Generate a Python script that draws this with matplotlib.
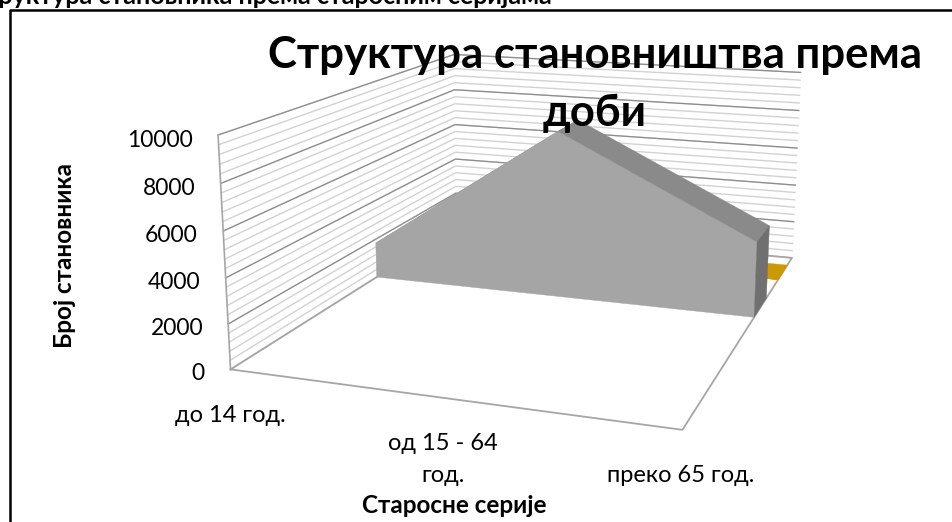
import matplotlib
matplotlib.use("Agg")
import matplotlib.pyplot as plt
import numpy as np
from matplotlib.lines import Line2D
from mpl_toolkits.mplot3d.art3d import Poly3DCollection

plt.rcParams['font.family'] = ['Lato', 'DejaVu Sans']

W, H = 952, 522

categories = ['до 14 год.', 'од 15 - 64\nгод.', 'преко 65 год.']
main_series = [1800, 8200, 3650]
back_series = [0, 0, 0]
y_ticks = [0, 2000, 4000, 6000, 8000, 10000]
minor_step = 400

title = 'Структура становништва према\nдоби'
page_heading = 'Структура становника према старосним серијама'
y_label = 'Број становника'
x_label = 'Старосне серије'


# position in image pixels (y measured from the top) to figure fraction
def px(x, y):
    return x / W, 1 - y / H


fig = plt.figure(figsize=(W / 100, H / 100), dpi=100)
# camera and box were fitted to the corners of the walls in the picture
ax = fig.add_axes([0.20458, -0.06552, 0.71807, 1.30958], projection='3d')
ax.view_init(13.9769, -71.1019, -0.1767)
ax.set_proj_type('persp', focal_length=0.3869)
ax.set_box_aspect((0.7835, 1, 0.4038))
ax.set_axis_off()
ax.patch.set_alpha(0)
ax.computed_zorder = False

xs = np.arange(len(categories))
x_end = xs[-1]

# walls
for z in np.arange(0, y_ticks[-1] + 1, minor_step):
    ax.plot([0, 0, x_end], [0, 1, 1], [z, z, z], color='#d2d2d2', lw=1.0, zorder=1)
for z in y_ticks[1:]:
    ax.plot([0, 0, x_end], [0, 1, 1], [z, z, z], color='#8c8c8c', lw=0.9, zorder=2)
ax.plot([0, 0], [0, 0], [0, y_ticks[-1]], color='#a6a6a6', lw=1.2, zorder=3)

# floor
ax.plot([0, x_end, x_end, 0, 0], [0, 0, 1, 1, 0], [0, 0, 0, 0, 0], color='#a6a6a6', lw=1.3, zorder=3)


def add_area(values, y0, y1, front, top, side, z):
    zs = list(values)
    faces = []
    colors = []
    for i in range(len(xs) - 1):
        faces.append([(xs[i], y0, zs[i]), (xs[i + 1], y0, zs[i + 1]),
                      (xs[i + 1], y1, zs[i + 1]), (xs[i], y1, zs[i])])
        colors.append(top)
    faces.append([(x_end, y0, 0), (x_end, y1, 0), (x_end, y1, zs[-1]), (x_end, y0, zs[-1])])
    colors.append(side)
    outline = [(x, y0, v) for x, v in zip(xs, zs)]
    faces.append(outline + [(x_end, y0, 0), (0, y0, 0)])
    colors.append(front)
    ax.add_collection3d(Poly3DCollection(faces, facecolors=colors, edgecolors=colors,
                                         linewidths=0.3, zorder=z))


add_area(back_series, 0.829, 0.941, '#cc9a00', '#cc9a00', '#cc9a00', 4)
add_area(main_series, 0.571, 0.697, '#a5a5a5', '#8a8a8a', '#707070', 5)

ax.set_xlim(0, x_end)
ax.set_ylim(0, 1)
ax.set_zlim(0, y_ticks[-1])

# value labels
tick_pos = [(204, 380), (203, 335), (200, 289), (198, 242), (196, 195), (193, 147)]
for v, (tx, ty) in zip(y_ticks, tick_pos):
    fig.text(*px(tx, ty), str(v), fontsize=16.5, ha='right', va='baseline', color='black')

# category labels
cat_pos = [(230, 422), (443, 450), (681, 482)]
for c, (tx, ty) in zip(categories, cat_pos):
    lines = c.split('\n')
    for k, line in enumerate(lines):
        fig.text(*px(tx, ty + 32 * k), line, fontsize=17, ha='center', va='baseline')

# titles
t1, t2 = title.split('\n')
fig.text(*px(594.5, 68), t1, fontsize=31.5, fontweight='bold', ha='center', va='baseline', zorder=10)
fig.text(*px(595, 126), t2, fontsize=31.5, fontweight='bold', ha='center', va='baseline', zorder=10)
fig.text(*px(552, 4), page_heading, fontsize=18, fontweight='bold', ha='right', va='baseline')
fig.text(*px(65, 255), y_label, fontsize=17.5, fontweight='bold', rotation=90, ha='center', va='center')
fig.text(*px(454, 513), x_label, fontsize=17.5, fontweight='bold', ha='center', va='baseline')

# frame, only the left and top sides are in the crop
fig.add_artist(Line2D([10 / W, 10 / W, 1], [0, 1 - 10 / H, 1 - 10 / H], color='black', lw=1.8,
                      transform=fig.transFigure))

fig.savefig('out.png', dpi=100)
